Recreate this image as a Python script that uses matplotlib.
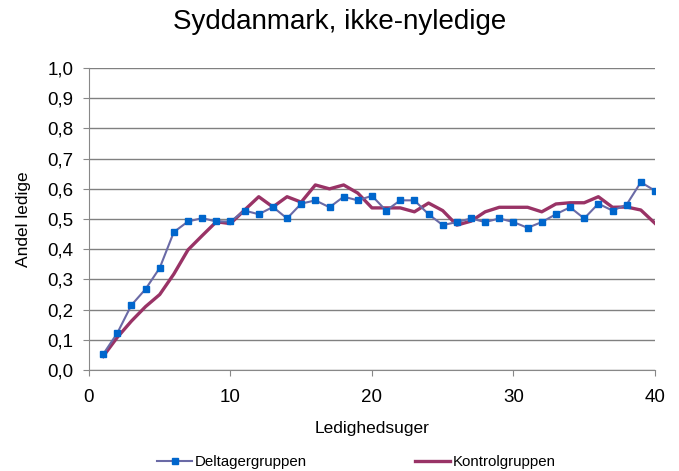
import matplotlib
matplotlib.use("Agg")
import matplotlib.pyplot as plt
from matplotlib.ticker import FuncFormatter, MultipleLocator

plt.rcParams['font.family'] = ['Liberation Sans', 'DejaVu Sans']

uger = list(range(1, 41))
deltager = [0.052, 0.122, 0.215, 0.268, 0.338, 0.457, 0.492, 0.503, 0.492, 0.492,
            0.528, 0.516, 0.54, 0.502, 0.551, 0.562, 0.539, 0.574, 0.562, 0.577,
            0.528, 0.562, 0.562, 0.516, 0.48, 0.49, 0.502, 0.49, 0.502, 0.49,
            0.471, 0.49, 0.516, 0.539, 0.502, 0.551, 0.528, 0.548, 0.622, 0.594]
kontrol = [0.045, 0.108, 0.162, 0.21, 0.25, 0.318, 0.398, 0.445, 0.491, 0.485,
           0.53, 0.574, 0.54, 0.574, 0.556, 0.613, 0.60, 0.613, 0.586, 0.537,
           0.537, 0.537, 0.524, 0.553, 0.528, 0.48, 0.493, 0.524, 0.539, 0.539,
           0.539, 0.524, 0.55, 0.554, 0.554, 0.574, 0.539, 0.54, 0.53, 0.486]

fig = plt.figure(figsize=(6.79, 4.71), dpi=100)
ax = fig.add_axes([0.131, 0.2144, 0.8336, 0.641])

ax.plot(uger, deltager, color='#6a6aa6', lw=1.5, marker='s', ms=5,
        mfc='#0066cc', mec='#0066cc', label='Deltagergruppen', zorder=3)
ax.plot(uger, kontrol, color='#993366', lw=2.4, label='Kontrolgruppen', zorder=2)

ax.set_xlim(0, 40)
ax.set_ylim(0, 1.0)
ax.xaxis.set_major_locator(MultipleLocator(10))
ax.yaxis.set_major_locator(MultipleLocator(0.1))
ax.yaxis.set_major_formatter(FuncFormatter(lambda v, p: f"{v:.1f}".replace('.', ',')))
ax.grid(axis='y', color='#808080', lw=1.0)
ax.set_axisbelow(True)

for s in ['top', 'right']:
    ax.spines[s].set_visible(False)
for s in ['left', 'bottom']:
    ax.spines[s].set_color('#888888')
ax.tick_params(axis='both', colors='#888888', labelcolor='black', labelsize=13.5,
               length=4.5, direction='out')
ax.tick_params(axis='x', pad=9)
ax.tick_params(axis='y', pad=6.5)

ax.set_xlabel('Ledighedsuger', fontsize=12.5, labelpad=11)
ax.set_ylabel('Andel ledige', fontsize=12.5, labelpad=12)
fig.text(0.5, 0.953, 'Syddanmark, ikke-nyledige', ha='center', va='center', fontsize=20)

fig.legend(loc='center', bbox_to_anchor=(0.525, 0.019), ncol=2, frameon=False,
           fontsize=10.8, handlelength=2.3, handletextpad=0.2, columnspacing=7.2,
           markerscale=0.9)

fig.savefig('out.png', dpi=100)
